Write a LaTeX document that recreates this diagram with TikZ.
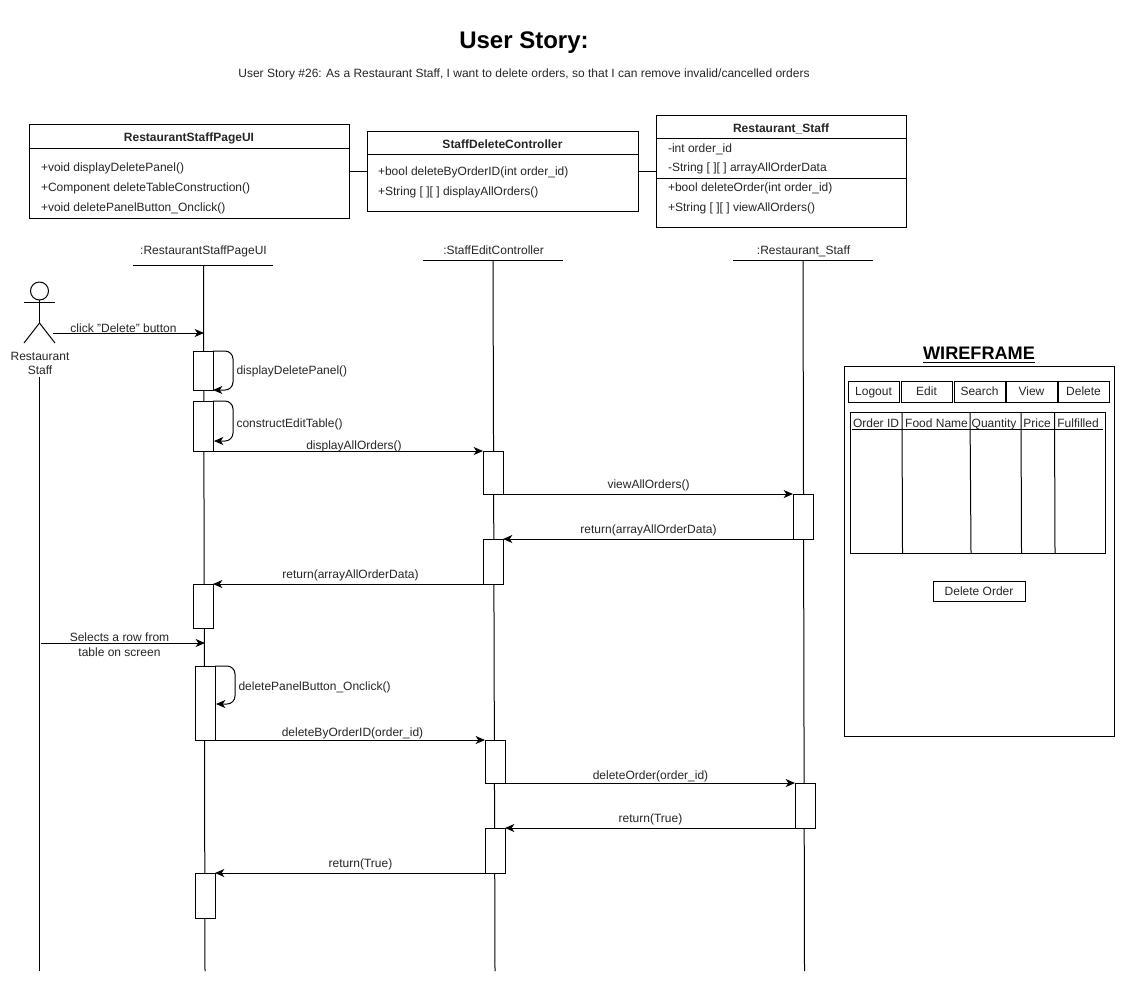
\documentclass[tikz,border=0pt]{standalone}
\usepackage{fontspec}
\setmainfont{Liberation Sans}
\usetikzlibrary{arrows.meta}
\tikzset{
  rb/.style={draw=black,fill=white,line width=0.75pt,inner sep=0pt,outer sep=0pt,rectangle},
  txt/.style={inner sep=0pt,outer sep=0pt,font=\fontsize{9}{10.5}\selectfont,text=black!85,align=center},
  one/.style={txt,text height=8pt,text depth=2pt},
  ltxt/.style={one,anchor=west,align=left},
  ctxt/.style={one,font=\fontsize{9}{10.5}\selectfont\bfseries},
  lifeln/.style={draw=black,line width=0.75pt},
  msg/.style={draw=black,line width=0.75pt,-{Stealth[length=7pt,width=6pt,inset=2pt]}},
  loopm/.style={msg,rounded corners=6pt},
  plain/.style={draw=black,line width=0.75pt},
}
\newcommand{\rbox}[6][]{\pgfmathsetmacro\bw{(#5-#3)*0.75}\pgfmathsetmacro\bh{(#6-#4)*0.75}\node[rb,#1,minimum width=\bw pt,minimum height=\bh pt,anchor=north west] (#2) at (#3,#4) {};}
\begin{document}
\begin{tikzpicture}[x=0.75pt,y=-0.75pt]
\useasboundingbox[fill=white] (0,0) rectangle (1126,983);
% titles
\node[txt,font=\fontsize{18}{20}\selectfont\bfseries,text=black] (title) at (524,43) {User Story:};
\node[one] (sub) at (524,73) {User Story \#26: As a Restaurant Staff, I want to delete orders, so that I can remove invalid/cancelled orders};
% class boxes
\rbox{ui}{29}{124}{349.5}{218}
\rbox{ctrl}{367}{131}{638}{211.5}
\rbox{staff}{656}{115}{906.5}{227.5}
\draw[plain] (ui.east) -- (ui.east -| ctrl.west);
\draw[plain] (ctrl.east) -- (ctrl.east -| staff.west);
\draw[plain] (29,148) -- (349.5,148);
\draw[plain] (367,154) -- (638,154);
\draw[plain] (656,138) -- (906.5,138);
\draw[plain] (656,178) -- (906.5,178);
\node[ctxt] (uit) at (189,137) {RestaurantStaffPageUI};
\node[ltxt] (ui1) at (41,167) {+void displayDeletePanel()};
\node[ltxt] (ui2) at (41,187) {+Component deleteTableConstruction()};
\node[ltxt] (ui3) at (41,207) {+void deletePanelButton\_Onclick()};
\node[ctxt] (ctrlt) at (502.5,144) {StaffDeleteController};
\node[ltxt] (c1) at (378,171) {+bool deleteByOrderID(int order\_id)};
\node[ltxt] (c2) at (378,191) {+String [ ][ ] displayAllOrders()};
\node[ctxt] (stafft) at (781,128) {Restaurant\_Staff};
\node[ltxt] (s1) at (668,148) {-int order\_id};
\node[ltxt] (s2) at (668,167) {-String [ ][ ] arrayAllOrderData};
\node[ltxt] (s3) at (668,187) {+bool deleteOrder(int order\_id)};
\node[ltxt] (s4) at (668,207) {+String [ ][ ] viewAllOrders()};
% lifeline heads
\node[one] (hui) at (203.5,250) {:RestaurantStaffPageUI};
\node[one] (hct) at (493.5,250) {:StaffEditController};
\node[one] (hst) at (803.5,250) {:Restaurant\_Staff};
\coordinate (luit) at (203.5,265);
\coordinate (luib) at (205,971);
\coordinate (lctt) at (493,260);
\coordinate (lctb) at (495,971);
\coordinate (lstt) at (803,260);
\coordinate (lstb) at (804.5,971);
\coordinate (lact) at (39.5,377);
\coordinate (lacb) at (39.5,971);
\draw[plain] (133,265) -- (273,265);
\draw[plain] (423,260) -- (563,260);
\draw[plain] (733,260) -- (873,260);
\draw[lifeln] (luit) -- (luib);
\draw[lifeln] (lctt) -- (lctb);
\draw[lifeln] (lstt) -- (lstb);
\draw[lifeln] (lact) -- (lacb);
% actor
\node[circle,draw=black,line width=0.75pt,fill=white,minimum size=18*0.75pt,inner sep=0pt,outer sep=0pt] (head) at (39.5,291) {};
\coordinate (hip) at (39.5,323);
\draw[plain] (head.south) -- (hip);
\draw[plain] (24,302) -- (55,302);
\draw[plain] (24,343) -- (hip) -- (55,343);
\node[txt] (actor) at (40,363.5) {Restaurant\\Staff};
% activations
\rbox{A1}{193}{351}{213}{390}
\rbox{A2}{193}{401}{213}{451}
\rbox{A3}{193}{584}{213}{628.5}
\rbox{A4}{195}{666}{215}{740}
\rbox{A5}{195}{873}{215}{918}
\rbox{C1}{483}{451}{503}{494}
\rbox{C2}{483}{539}{503}{584}
\rbox{C3}{485}{740}{505}{783}
\rbox{C4}{485}{828}{505}{873}
\rbox{S1}{793}{494}{813}{539}
\rbox{S2}{795}{783}{815}{828}
% messages
\coordinate (clk0) at (53,333);
\coordinate (clk1) at (204,333);
\draw[msg] (clk0) -- (clk1);
\node[one] (clkl) at (123.5,328) {click "Delete" button};
\draw[loopm] (A1.north east) -- (233,351) -- (233,390) -- (A1.south east);
\node[ltxt] (l1) at (236.5,370) {displayDeletePanel()};
\draw[loopm] (A2.north east) -- (233,401) -- (233,441) -- (214,441);
\node[ltxt] (l2) at (236.5,423) {constructEditTable()};
\draw[msg] (A2.south east) -- (C1.north west);
\node[one] (l3) at (354,445) {displayAllOrders()};
\draw[msg] (C1.south east) -- (S1.north west);
\node[one] (l4) at (648.5,484.5) {viewAllOrders()};
\draw[msg] (S1.south west) -- (C2.north east);
\node[one] (l5) at (648.5,529) {return(arrayAllOrderData)};
\draw[msg] (C2.south west) -- (A3.north east);
\node[one] (l6) at (350.5,574.5) {return(arrayAllOrderData)};
\coordinate (sel0) at (41,643);
\coordinate (sel1) at (205,643);
\draw[msg] (sel0) -- (sel1);
\node[txt,font=\fontsize{9}{11.25}\selectfont] (l7) at (119.5,644.5) {Selects a row from\\table on screen};
\draw[loopm] (A4.north east) -- (235,666) -- (235,704) -- (216,704);
\node[ltxt] (l8) at (238.5,686) {deletePanelButton\_Onclick()};
\draw[msg] (A4.south east) -- (C3.north west);
\node[one] (l9) at (352.5,732) {deleteByOrderID(order\_id)};
\draw[msg] (C3.south east) -- (S2.north west);
\node[one] (l10) at (650.5,775.5) {deleteOrder(order\_id)};
\draw[msg] (S2.south west) -- (C4.north east);
\node[one] (l11) at (650.5,818.5) {return(True)};
\draw[msg] (C4.south west) -- (A5.north east);
\node[one] (l12) at (360.5,863) {return(True)};
% wireframe
\node[txt,font=\fontsize{13.6}{15}\selectfont\bfseries,text=black] (wft) at (979,355) {\underline{WIREFRAME}};
\rbox{wf}{844}{366}{1114}{736}
\rbox{b1}{848}{381}{899}{402}
\rbox{b2}{901}{381}{952}{402}
\rbox{b3}{954}{381}{1005}{402}
\rbox{b4}{1006}{381}{1057}{402}
\rbox{b5}{1058}{381}{1109}{402}
\node[one] at (b1) {Logout};
\node[one] at (b2) {Edit};
\node[one] at (b3) {Search};
\node[one] at (b4) {View};
\node[one] at (b5) {Delete};
\rbox{tb}{850}{412}{1105}{553}
\draw[plain] (902,412) -- (902.5,553);
\draw[plain] (970,412) -- (971,553);
\draw[plain] (1021,412) -- (1021.5,553);
\draw[plain] (1054.5,412) -- (1055,553);
\draw[plain] (852,429) -- (1103,429);
\node[one] (t1) at (876,423) {Order ID};
\node[one] (t2) at (936.5,423) {Food Name};
\node[one] (t3) at (994,423) {Quantity};
\node[one] (t4) at (1037,423) {Price};
\node[one] (t5) at (1078,423) {Fulfilled};
\rbox{del}{933}{581}{1025}{601}
\node[one] at (del) {Delete Order};
\end{tikzpicture}
\end{document}
